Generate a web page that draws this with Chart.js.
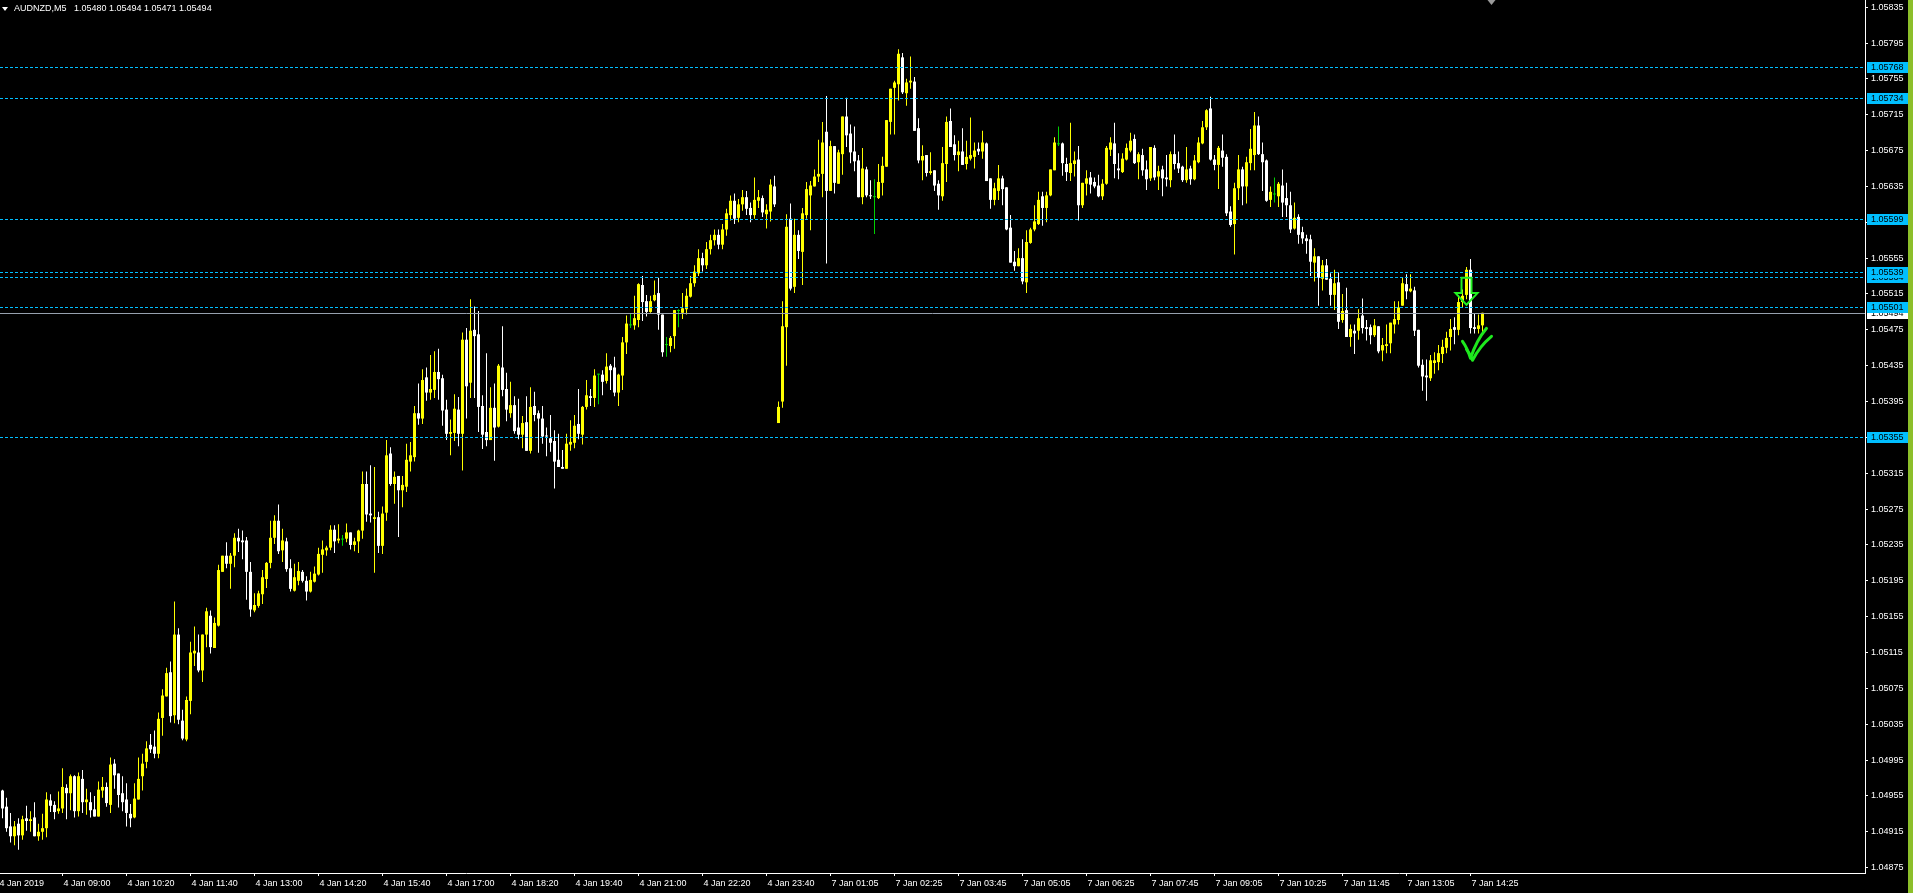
<!DOCTYPE html>
<html>
<head>
<meta charset="utf-8">
<script src="https://cdn.jsdelivr.net/npm/chart.js@4.4.1/dist/chart.umd.min.js"></script>
<style>
  html, body { margin: 0; padding: 0; background: #000; overflow: hidden; }
  #wrap { position: absolute; left: 0; top: 0; width: 1908px; height: 893px; }
  #strip { position: absolute; left: 1908px; top: 0; width: 5px; height: 893px; background: #8cbf2a; }
  #title { position: absolute; left: 14px; top: 2px; color: #fff; font: 9px 'Liberation Sans', Arial, sans-serif; white-space: pre; line-height: 12px; }
  #tri { position: absolute; left: 2px; top: 7px; width: 0; height: 0; border-left: 3px solid transparent; border-right: 3px solid transparent; border-top: 4px solid #fff; }
</style>
</head>
<body>
<div id="wrap"><canvas id="c"></canvas></div>
<div id="strip"></div>
<div id="tri"></div>
<div id="title"></div>
<script>
// ---- data (AUDNZD M5, 4 Jan 2019 07:45 .. 7 Jan 2019 14:30) ----
const symbol = 'AUDNZD';
const timeframe = 'M5';
const open = [
1.04961,1.04943,1.04921,1.04910,1.04924,1.04911,1.04930,1.04927,1.04931,1.04910,
1.04915,1.04919,1.04950,1.04945,1.04938,1.04941,1.04964,1.04958,1.04977,1.04938,
1.04974,1.04948,1.04948,1.04940,1.04932,1.04961,1.04965,1.04945,1.04991,1.04980,
1.04958,1.04951,1.04935,1.04931,1.04951,1.04977,1.04993,1.05012,1.05010,1.05002,
1.05042,1.05066,1.05093,1.05045,1.05135,1.05039,1.05018,1.05061,1.05114,1.05115,
1.05095,1.05135,1.05156,1.05120,1.05145,1.05205,1.05223,1.05214,1.05223,1.05243,
1.05240,1.05240,1.05205,1.05162,1.05167,1.05180,1.05197,1.05215,1.05243,1.05262,
1.05229,1.05239,1.05209,1.05184,1.05195,1.05205,1.05195,1.05183,1.05194,1.05202,
1.05224,1.05229,1.05232,1.05252,1.05240,1.05241,1.05242,1.05249,1.05235,1.05239,
1.05251,1.05303,1.05270,1.05264,1.05266,1.05234,1.05271,1.05337,1.05303,1.05312,
1.05296,1.05300,1.05328,1.05333,1.05382,1.05376,1.05422,1.05405,1.05408,1.05428,
1.05421,1.05386,1.05359,1.05360,1.05386,1.05359,1.05464,1.05416,1.05475,1.05470,
1.05390,1.05361,1.05352,1.05388,1.05367,1.05433,1.05409,1.05382,1.05391,1.05366,
1.05358,1.05372,1.05340,1.05390,1.05382,1.05376,1.05357,1.05354,1.05351,1.05330,
1.05322,1.05320,1.05347,1.05349,1.05370,1.05358,1.05389,1.05401,1.05399,1.05425,
1.05425,1.05418,1.05435,1.05433,1.05405,1.05424,1.05461,1.05480,1.05480,1.05486,
1.05525,1.05507,1.05495,1.05508,1.05516,1.05492,1.05458,1.05457,1.05468,1.05496,
1.05494,1.05498,1.05512,1.05527,1.05538,1.05555,1.05547,1.05565,1.05575,1.05581,
1.05570,1.05587,1.05603,1.05619,1.05600,1.05615,1.05623,1.05611,1.05603,1.05619,
1.05622,1.05604,1.05607,1.05635,1.05371,1.05395,1.05478,1.05599,1.05523,1.05581,
1.05562,1.05603,1.05625,1.05635,1.05646,1.05649,1.05696,1.05630,1.05680,1.05638,
1.05671,1.05713,1.05694,1.05674,1.05664,1.05623,1.05654,1.05625,1.05623,1.05622,
1.05639,1.05657,1.05707,1.05745,1.05749,1.05779,1.05739,1.05751,1.05752,1.05700,
1.05664,1.05670,1.05650,1.05653,1.05638,1.05624,1.05660,1.05708,1.05682,1.05670,
1.05674,1.05660,1.05666,1.05668,1.05677,1.05674,1.05683,1.05644,1.05620,1.05630,
1.05644,1.05634,1.05589,1.05551,1.05546,1.05555,1.05528,1.05572,1.05587,1.05593,
1.05624,1.05611,1.05625,1.05653,1.05682,1.05683,1.05660,1.05650,1.05660,1.05665,
1.05614,1.05638,1.05645,1.05640,1.05636,1.05624,1.05638,1.05676,1.05683,1.05655,
1.05651,1.05665,1.05675,1.05688,1.05662,1.05670,1.05654,1.05644,1.05678,1.05646,
1.05654,1.05645,1.05642,1.05671,1.05661,1.05657,1.05642,1.05655,1.05643,1.05662,
1.05683,1.05701,1.05722,1.05665,1.05659,1.05675,1.05668,1.05607,1.05593,1.05633,
1.05654,1.05635,1.05661,1.05670,1.05703,1.05671,1.05664,1.05620,1.05626,1.05624,
1.05636,1.05622,1.05614,1.05588,1.05601,1.05584,1.05577,1.05576,1.05550,1.05557,
1.05532,1.05547,1.05532,1.05514,1.05528,1.05486,1.05497,1.05467,1.05474,1.05474,
1.05491,1.05478,1.05478,1.05469,1.05479,1.05452,1.05457,1.05460,1.05481,1.05486,
1.05502,1.05526,1.05518,1.05519,1.05475,1.05436,1.05424,1.05421,1.05438,1.05439,
1.05448,1.05455,1.05467,1.05478,1.05475,1.05506,1.05514,1.05542,1.05478,1.05476,
1.05480];
const high = [
1.04962,1.04953,1.04936,1.04927,1.04930,1.04933,1.04944,1.04938,1.04948,1.04924,
1.04935,1.04959,1.04957,1.04949,1.04960,1.04986,1.04968,1.04979,1.04978,1.04981,
1.04984,1.04963,1.04959,1.04955,1.04971,1.04976,1.04970,1.04998,1.04996,1.04980,
1.04977,1.04969,1.04946,1.04969,1.04998,1.05002,1.05016,1.05024,1.05028,1.05048,
1.05074,1.05098,1.05105,1.05172,1.05142,1.05051,1.05066,1.05127,1.05144,1.05135,
1.05135,1.05165,1.05162,1.05154,1.05213,1.05223,1.05238,1.05226,1.05248,1.05253,
1.05251,1.05244,1.05216,1.05181,1.05184,1.05207,1.05216,1.05262,1.05268,1.05280,
1.05253,1.05243,1.05219,1.05214,1.05216,1.05207,1.05200,1.05205,1.05211,1.05232,
1.05240,1.05234,1.05257,1.05257,1.05258,1.05246,1.05259,1.05249,1.05243,1.05252,
1.05317,1.05317,1.05324,1.05322,1.05272,1.05278,1.05352,1.05344,1.05317,1.05312,
1.05312,1.05348,1.05350,1.05390,1.05415,1.05431,1.05433,1.05447,1.05451,1.05454,
1.05425,1.05397,1.05375,1.05403,1.05400,1.05472,1.05477,1.05509,1.05501,1.05496,
1.05402,1.05449,1.05411,1.05415,1.05437,1.05479,1.05427,1.05417,1.05401,1.05398,
1.05379,1.05401,1.05411,1.05406,1.05385,1.05390,1.05366,1.05380,1.05363,1.05359,
1.05341,1.05359,1.05374,1.05380,1.05409,1.05390,1.05419,1.05409,1.05431,1.05426,
1.05430,1.05449,1.05437,1.05445,1.05426,1.05467,1.05491,1.05493,1.05513,1.05527,
1.05535,1.05514,1.05513,1.05530,1.05533,1.05492,1.05467,1.05468,1.05497,1.05498,
1.05516,1.05521,1.05535,1.05547,1.05565,1.05561,1.05573,1.05581,1.05587,1.05587,
1.05593,1.05610,1.05625,1.05627,1.05621,1.05631,1.05630,1.05617,1.05645,1.05631,
1.05625,1.05615,1.05643,1.05647,1.05395,1.05507,1.05604,1.05616,1.05599,1.05586,
1.05611,1.05640,1.05641,1.05654,1.05687,1.05707,1.05736,1.05686,1.05680,1.05676,
1.05713,1.05734,1.05704,1.05702,1.05670,1.05678,1.05657,1.05642,1.05643,1.05660,
1.05668,1.05709,1.05744,1.05753,1.05788,1.05784,1.05755,1.05780,1.05757,1.05711,
1.05681,1.05670,1.05673,1.05653,1.05642,1.05679,1.05713,1.05722,1.05692,1.05686,
1.05700,1.05686,1.05712,1.05684,1.05684,1.05697,1.05684,1.05644,1.05639,1.05659,
1.05647,1.05634,1.05603,1.05563,1.05566,1.05576,1.05586,1.05589,1.05614,1.05629,
1.05629,1.05629,1.05654,1.05690,1.05702,1.05684,1.05667,1.05706,1.05674,1.05680,
1.05639,1.05653,1.05651,1.05645,1.05648,1.05643,1.05680,1.05690,1.05706,1.05672,
1.05672,1.05683,1.05695,1.05693,1.05673,1.05677,1.05664,1.05679,1.05681,1.05658,
1.05658,1.05670,1.05674,1.05693,1.05674,1.05658,1.05679,1.05658,1.05670,1.05690,
1.05708,1.05721,1.05735,1.05670,1.05680,1.05693,1.05671,1.05613,1.05639,1.05670,
1.05657,1.05668,1.05699,1.05718,1.05713,1.05684,1.05665,1.05635,1.05645,1.05640,
1.05654,1.05639,1.05629,1.05617,1.05604,1.05590,1.05581,1.05581,1.05566,1.05557,
1.05553,1.05554,1.05538,1.05542,1.05539,1.05515,1.05522,1.05481,1.05481,1.05498,
1.05510,1.05486,1.05481,1.05487,1.05479,1.05466,1.05481,1.05483,1.05507,1.05507,
1.05533,1.05537,1.05537,1.05523,1.05475,1.05442,1.05442,1.05447,1.05450,1.05458,
1.05464,1.05473,1.05487,1.05489,1.05514,1.05520,1.05545,1.05554,1.05493,1.05492,
1.05494];
const low = [
1.04930,1.04915,1.04903,1.04900,1.04895,1.04906,1.04916,1.04915,1.04910,1.04905,
1.04906,1.04909,1.04937,1.04929,1.04935,1.04936,1.04929,1.04939,1.04931,1.04932,
1.04936,1.04934,1.04931,1.04932,1.04932,1.04953,1.04943,1.04936,1.04963,1.04942,
1.04938,1.04921,1.04920,1.04930,1.04951,1.04961,1.04986,1.05003,1.04997,1.04997,
1.05022,1.05066,1.05037,1.05036,1.05035,1.05017,1.05016,1.05046,1.05100,1.05093,
1.05082,1.05121,1.05114,1.05120,1.05144,1.05205,1.05209,1.05186,1.05210,1.05227,
1.05219,1.05174,1.05155,1.05160,1.05165,1.05169,1.05187,1.05209,1.05236,1.05225,
1.05216,1.05205,1.05183,1.05183,1.05190,1.05193,1.05173,1.05182,1.05193,1.05201,
1.05204,1.05223,1.05229,1.05226,1.05237,1.05234,1.05238,1.05230,1.05228,1.05226,
1.05242,1.05261,1.05260,1.05204,1.05226,1.05225,1.05262,1.05301,1.05281,1.05244,
1.05277,1.05294,1.05317,1.05328,1.05369,1.05370,1.05396,1.05397,1.05399,1.05397,
1.05368,1.05352,1.05335,1.05351,1.05345,1.05318,1.05376,1.05399,1.05399,1.05361,
1.05342,1.05345,1.05352,1.05329,1.05366,1.05401,1.05373,1.05377,1.05359,1.05353,
1.05343,1.05340,1.05337,1.05373,1.05338,1.05348,1.05334,1.05339,1.05298,1.05322,
1.05320,1.05320,1.05340,1.05343,1.05353,1.05347,1.05386,1.05390,1.05389,1.05392,
1.05402,1.05415,1.05408,1.05401,1.05390,1.05408,1.05448,1.05477,1.05475,1.05478,
1.05485,1.05490,1.05494,1.05507,1.05475,1.05445,1.05445,1.05450,1.05454,1.05478,
1.05487,1.05492,1.05511,1.05523,1.05535,1.05540,1.05543,1.05559,1.05569,1.05565,
1.05565,1.05580,1.05597,1.05593,1.05595,1.05608,1.05603,1.05595,1.05599,1.05611,
1.05601,1.05588,1.05596,1.05612,1.05371,1.05388,1.05435,1.05519,1.05516,1.05554,
1.05525,1.05599,1.05586,1.05635,1.05640,1.05623,1.05549,1.05630,1.05627,1.05638,
1.05648,1.05679,1.05661,1.05652,1.05623,1.05615,1.05623,1.05621,1.05582,1.05621,
1.05625,1.05657,1.05693,1.05693,1.05731,1.05738,1.05725,1.05744,1.05697,1.05661,
1.05642,1.05646,1.05648,1.05630,1.05609,1.05619,1.05640,1.05679,1.05664,1.05652,
1.05659,1.05654,1.05664,1.05655,1.05670,1.05666,1.05641,1.05610,1.05614,1.05620,
1.05614,1.05586,1.05550,1.05541,1.05546,1.05526,1.05516,1.05571,1.05585,1.05592,
1.05591,1.05595,1.05624,1.05653,1.05680,1.05647,1.05641,1.05641,1.05646,1.05597,
1.05611,1.05625,1.05627,1.05633,1.05623,1.05620,1.05637,1.05669,1.05644,1.05643,
1.05650,1.05664,1.05673,1.05660,1.05643,1.05647,1.05631,1.05641,1.05642,1.05631,
1.05624,1.05635,1.05634,1.05654,1.05650,1.05640,1.05639,1.05637,1.05642,1.05661,
1.05682,1.05698,1.05664,1.05653,1.05632,1.05657,1.05602,1.05590,1.05559,1.05620,
1.05614,1.05616,1.05653,1.05653,1.05670,1.05630,1.05618,1.05612,1.05617,1.05612,
1.05601,1.05601,1.05583,1.05587,1.05571,1.05571,1.05560,1.05535,1.05529,1.05502,
1.05519,1.05531,1.05502,1.05497,1.05476,1.05483,1.05467,1.05456,1.05448,1.05464,
1.05471,1.05463,1.05459,1.05467,1.05449,1.05440,1.05449,1.05449,1.05471,1.05481,
1.05502,1.05509,1.05517,1.05468,1.05433,1.05407,1.05396,1.05418,1.05426,1.05430,
1.05438,1.05449,1.05452,1.05459,1.05469,1.05500,1.05509,1.05471,1.05471,1.05471,
1.05471];
const close = [
1.04941,1.04919,1.04910,1.04921,1.04911,1.04929,1.04927,1.04929,1.04910,1.04915,
1.04919,1.04951,1.04944,1.04937,1.04941,1.04965,1.04958,1.04977,1.04938,1.04977,
1.04948,1.04951,1.04939,1.04932,1.04962,1.04965,1.04947,1.04990,1.04978,1.04956,
1.04948,1.04936,1.04930,1.04952,1.04974,1.04991,1.05008,1.05007,1.05002,1.05041,
1.05067,1.05092,1.05044,1.05135,1.05040,1.05019,1.05062,1.05115,1.05117,1.05095,
1.05135,1.05161,1.05121,1.05148,1.05207,1.05223,1.05214,1.05223,1.05243,1.05239,
1.05238,1.05205,1.05163,1.05168,1.05181,1.05199,1.05215,1.05243,1.05262,1.05228,
1.05240,1.05208,1.05186,1.05199,1.05206,1.05195,1.05183,1.05196,1.05203,1.05225,
1.05230,1.05232,1.05252,1.05239,1.05242,1.05241,1.05249,1.05235,1.05239,1.05251,
1.05303,1.05269,1.05268,1.05266,1.05234,1.05270,1.05335,1.05303,1.05311,1.05296,
1.05302,1.05330,1.05335,1.05382,1.05376,1.05419,1.05405,1.05409,1.05428,1.05420,
1.05385,1.05359,1.05361,1.05387,1.05359,1.05464,1.05412,1.05474,1.05468,1.05389,
1.05358,1.05352,1.05388,1.05366,1.05435,1.05408,1.05386,1.05391,1.05362,1.05358,
1.05371,1.05340,1.05389,1.05380,1.05376,1.05356,1.05356,1.05349,1.05328,1.05322,
1.05320,1.05348,1.05350,1.05368,1.05359,1.05389,1.05402,1.05399,1.05424,1.05425,
1.05417,1.05434,1.05430,1.05405,1.05425,1.05461,1.05482,1.05480,1.05488,1.05526,
1.05506,1.05495,1.05507,1.05514,1.05492,1.05450,1.05458,1.05466,1.05497,1.05496,
1.05499,1.05513,1.05527,1.05540,1.05555,1.05547,1.05565,1.05575,1.05581,1.05570,
1.05587,1.05605,1.05619,1.05599,1.05615,1.05623,1.05610,1.05603,1.05620,1.05623,
1.05606,1.05609,1.05637,1.05615,1.05389,1.05479,1.05590,1.05521,1.05581,1.05563,
1.05605,1.05632,1.05636,1.05646,1.05649,1.05684,1.05630,1.05680,1.05639,1.05673,
1.05713,1.05692,1.05673,1.05663,1.05623,1.05655,1.05625,1.05624,1.05623,1.05640,
1.05658,1.05709,1.05744,1.05751,1.05783,1.05740,1.05751,1.05753,1.05697,1.05664,
1.05669,1.05650,1.05652,1.05636,1.05625,1.05661,1.05707,1.05679,1.05670,1.05674,
1.05659,1.05668,1.05670,1.05675,1.05674,1.05684,1.05641,1.05620,1.05633,1.05644,
1.05632,1.05587,1.05550,1.05546,1.05555,1.05529,1.05573,1.05587,1.05596,1.05620,
1.05611,1.05625,1.05654,1.05684,1.05682,1.05661,1.05651,1.05661,1.05664,1.05614,
1.05639,1.05644,1.05637,1.05635,1.05624,1.05638,1.05678,1.05684,1.05660,1.05653,
1.05666,1.05678,1.05686,1.05661,1.05671,1.05653,1.05643,1.05679,1.05645,1.05652,
1.05644,1.05643,1.05671,1.05660,1.05655,1.05642,1.05654,1.05643,1.05664,1.05684,
1.05701,1.05720,1.05665,1.05659,1.05678,1.05667,1.05605,1.05592,1.05633,1.05654,
1.05635,1.05662,1.05677,1.05703,1.05671,1.05662,1.05619,1.05629,1.05626,1.05638,
1.05617,1.05614,1.05587,1.05600,1.05581,1.05577,1.05574,1.05551,1.05557,1.05533,
1.05547,1.05531,1.05514,1.05527,1.05484,1.05496,1.05467,1.05476,1.05471,1.05488,
1.05477,1.05476,1.05469,1.05480,1.05451,1.05458,1.05459,1.05483,1.05487,1.05500,
1.05527,1.05518,1.05521,1.05474,1.05435,1.05423,1.05422,1.05441,1.05441,1.05449,
1.05456,1.05466,1.05476,1.05475,1.05506,1.05513,1.05542,1.05477,1.05476,1.05480,
1.05494];

// time-axis labels and the bar index they sit on
const xTickIdx = [-1, 15, 31, 47, 63, 79, 95, 111, 127, 143, 159, 175, 191, 207, 223, 239, 255, 271, 287, 303, 319, 335, 351, 367];
const xTickLabels = ['4 Jan 2019','4 Jan 09:00','4 Jan 10:20','4 Jan 11:40','4 Jan 13:00','4 Jan 14:20','4 Jan 15:40','4 Jan 17:00','4 Jan 18:20','4 Jan 19:40','4 Jan 21:00','4 Jan 22:20','4 Jan 23:40','7 Jan 01:05','7 Jan 02:25','7 Jan 03:45','7 Jan 05:05','7 Jan 06:25','7 Jan 07:45','7 Jan 09:05','7 Jan 10:25','7 Jan 11:45','7 Jan 13:05','7 Jan 14:25'];
// price-axis ticks
const yTicks = [1.04875,1.04915,1.04955,1.04995,1.05035,1.05075,1.05115,1.05155,1.05195,1.05235,1.05275,1.05315,1.05355,1.05395,1.05435,1.05475,1.05515,1.05555,1.05595,1.05635,1.05675,1.05715,1.05755,1.05795,1.05835];
const yRange = [1.04869, 1.05843];
const xRange = [-0.625, 465.625];
// horizontal levels (dashed) and the bid line
const levels = [1.05355, 1.05501, 1.05534, 1.05539, 1.05599, 1.05734, 1.05768];
const bid = close[close.length - 1];
// hand-drawn marks anchored on (bar index, price)
const arrowIdx = 366;
const arrowPrices = [1.05533, 1.05516, 1.05503]; // top of shaft, head base, tip
const checkIdx = 367;
const checkPrice = 1.05441;
const shiftIdx = 372;

// ---- chart ----
const n = open.length;
const idx = open.map((_, i) => i);
const colors = idx.map(i => close[i] > open[i] ? '#ffff00' : (close[i] < open[i] ? '#ffffff' : '#00d000'));

document.getElementById('title').textContent =
  symbol + ',' + timeframe + '   ' + [open[n-1], high[n-1], low[n-1], close[n-1]].map(v => v.toFixed(5)).join(' ');

Chart.defaults.font.family = "'Liberation Sans', Arial, sans-serif";
Chart.defaults.font.size = 9;
Chart.defaults.color = '#ffffff';

const overlay = {
  id: 'overlay',
  afterDatasetsDraw(chart) {
    const {ctx, chartArea: a, scales: {x, y}} = chart;
    ctx.save();
    ctx.beginPath();
    ctx.rect(a.left, a.top, a.right - a.left, a.bottom - a.top);
    ctx.clip();
    ctx.lineWidth = 1;
    ctx.strokeStyle = '#00bfff';
    ctx.setLineDash([3, 2]);
    levels.forEach(v => {
      const py = Math.round(y.getPixelForValue(v)) + 0.5;
      ctx.beginPath(); ctx.moveTo(a.left, py); ctx.lineTo(a.right, py); ctx.stroke();
    });
    ctx.setLineDash([]);
    ctx.strokeStyle = '#96a0ae';
    const by = Math.round(y.getPixelForValue(bid)) + 0.5;
    ctx.beginPath(); ctx.moveTo(a.left, by); ctx.lineTo(a.right, by); ctx.stroke();

    // hollow down arrow
    const cx = x.getPixelForValue(arrowIdx);
    const [yt, yn, yp] = arrowPrices.map(p => y.getPixelForValue(p));
    ctx.strokeStyle = '#22f022';
    ctx.lineWidth = 2;
    ctx.lineJoin = 'miter';
    ctx.beginPath();
    ctx.moveTo(cx - 5, yt); ctx.lineTo(cx + 5, yt); ctx.lineTo(cx + 5, yn);
    ctx.lineTo(cx + 11, yn); ctx.lineTo(cx, yp); ctx.lineTo(cx - 11, yn);
    ctx.lineTo(cx - 5, yn); ctx.closePath();
    ctx.stroke();

    // double check mark
    const kx = x.getPixelForValue(checkIdx);
    const ky = y.getPixelForValue(checkPrice);
    ctx.strokeStyle = '#1ee81e';
    ctx.lineWidth = 3;
    ctx.lineCap = 'round';
    ctx.lineJoin = 'round';
    ctx.beginPath();
    ctx.moveTo(kx - 8, ky - 19); ctx.quadraticCurveTo(kx - 3, ky - 12, kx, ky - 2);
    ctx.quadraticCurveTo(kx + 6, ky - 20, kx + 16, ky - 32);
    ctx.stroke();
    ctx.beginPath();
    ctx.moveTo(kx - 4, ky - 11); ctx.quadraticCurveTo(kx, ky - 6, kx + 2, ky);
    ctx.quadraticCurveTo(kx + 9, ky - 14, kx + 21, ky - 24);
    ctx.stroke();
    ctx.restore();
  },
  afterDraw(chart) {
    const {ctx, chartArea: a, scales: {x, y}} = chart;
    ctx.save();
    ctx.font = "9px 'Liberation Sans', Arial, sans-serif";
    ctx.textBaseline = 'middle';
    ctx.textAlign = 'left';
    const box = (v, fill) => {
      const py = Math.round(y.getPixelForValue(v));
      ctx.fillStyle = fill;
      ctx.fillRect(a.right + 2, py - 5, 41, 11);
      ctx.fillStyle = '#000';
      ctx.fillText(v.toFixed(5), a.right + 6, py + 0.5);
    };
    box(bid, '#ffffff');
    levels.forEach(v => box(v, '#00bfff'));
    // chart-shift marker
    const sx = Math.round(x.getPixelForValue(shiftIdx)) + 0.5;
    ctx.fillStyle = '#9a9a9a';
    ctx.beginPath(); ctx.moveTo(sx - 4, 0); ctx.lineTo(sx + 4, 0); ctx.lineTo(sx, 5); ctx.closePath(); ctx.fill();
    ctx.restore();
  }
};

new Chart(document.getElementById('c'), {
  type: 'bar',
  data: {
    datasets: [
      {
        label: 'body',
        data: idx.map(i => ({x: i, y: [open[i], close[i]]})),
        backgroundColor: colors,
        borderWidth: 0,
        barThickness: 3,
        minBarLength: 1,
        grouped: false,
        inflateAmount: 0
      },
      {
        label: 'wick',
        data: idx.map(i => ({x: i, y: [low[i], high[i]]})),
        backgroundColor: colors,
        borderWidth: 0,
        barThickness: 1,
        minBarLength: 1,
        grouped: false,
        inflateAmount: 0
      }
    ]
  },
  options: {
    responsive: true,
    maintainAspectRatio: false,
    animation: false,
    events: [],
    layout: {padding: 0},
    plugins: {legend: {display: false}, tooltip: {enabled: false}},
    scales: {
      x: {
        type: 'linear',
        min: xRange[0],
        max: xRange[1],
        bounds: 'data',
        offset: false,
        grid: {display: true, drawOnChartArea: false, drawTicks: true, tickLength: 3, color: '#ffffff', offset: false},
        border: {display: true, color: '#ffffff', width: 1},
        ticks: {
          autoSkip: false, maxRotation: 0, minRotation: 0, align: 'start', labelOffset: 1, padding: 2,
          color: '#ffffff', font: {size: 9},
          callback: (v, i) => xTickLabels[i]
        },
        afterBuildTicks: s => { s.ticks = xTickIdx.map(v => ({value: v})); },
        afterFit: s => { s.height = 20; s.paddingLeft = 0; s.paddingRight = 0; }
      },
      y: {
        type: 'linear',
        position: 'right',
        min: yRange[0],
        max: yRange[1],
        bounds: 'data',
        grid: {display: true, drawOnChartArea: false, drawTicks: true, tickLength: 3, color: '#ffffff'},
        border: {display: true, color: '#ffffff', width: 1},
        ticks: {padding: 3, color: '#ffffff', font: {size: 9}, callback: v => Number(v).toFixed(5)},
        afterBuildTicks: s => { s.ticks = yTicks.map(v => ({value: v})); },
        afterFit: s => { s.width = 43; s.paddingTop = 0; s.paddingBottom = 0; }
      }
    }
  },
  plugins: [overlay]
});
</script>
</body>
</html>
